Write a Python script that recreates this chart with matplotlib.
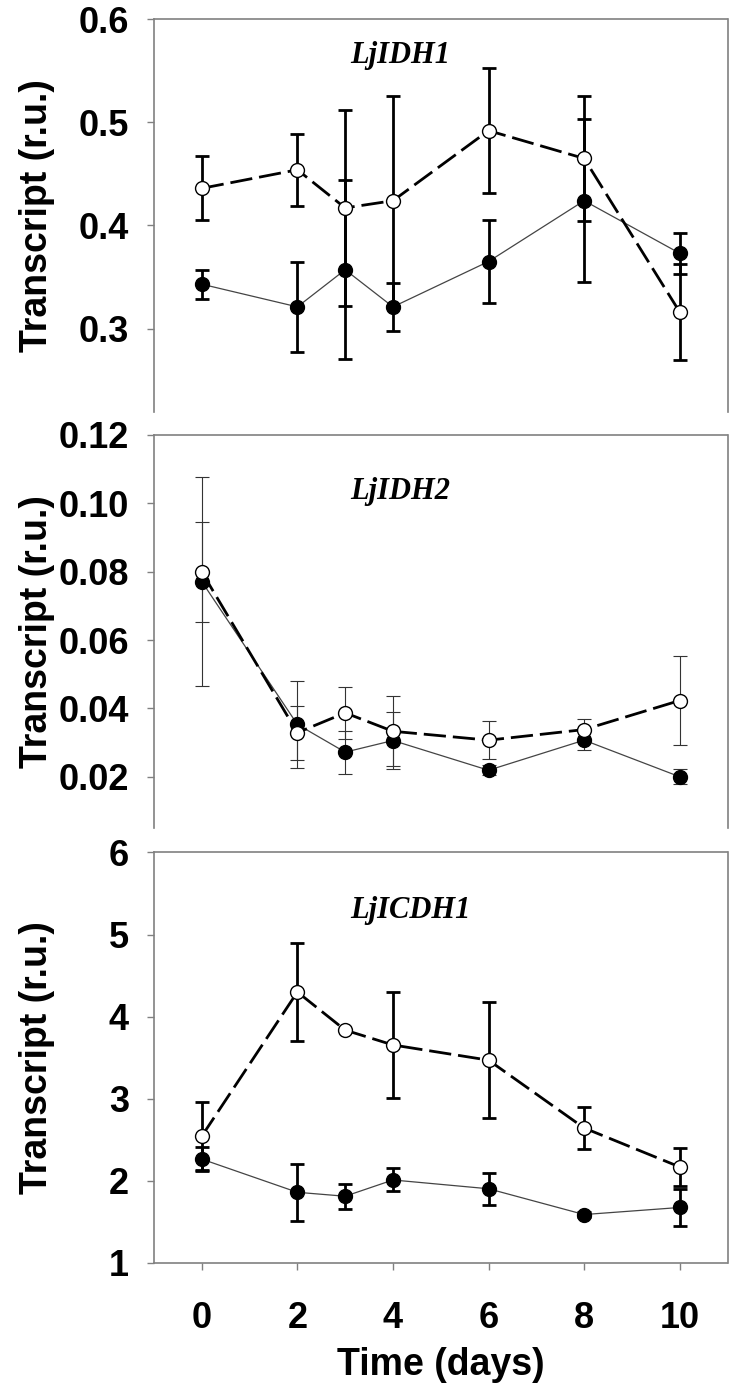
import numpy as np
import matplotlib
matplotlib.use("Agg")
import matplotlib.pyplot as plt

plt.rcParams['font.family'] = ['Liberation Sans', 'DejaVu Sans']
plt.rcParams['font.weight'] = 'bold'

days = [0, 2, 3, 4, 6, 8, 10]

# LjIDH1
idh1_filled = [0.343, 0.321, 0.357, 0.321, 0.365, 0.424, 0.373]
idh1_filled_err = [0.014, 0.044, 0.087, 0.023, 0.040, 0.079, 0.020]
idh1_open = [0.436, 0.454, 0.417, 0.424, 0.492, 0.465, 0.316]
idh1_open_err = [0.031, 0.035, 0.095, 0.102, 0.061, 0.061, 0.047]

# LjIDH2
idh2_filled = [0.0771, 0.0353, 0.0272, 0.0306, 0.0219, 0.0307, 0.0200]
idh2_filled_err = [0.0305, 0.0126, 0.0063, 0.0084, 0.0015, 0.0030, 0.0022]
idh2_open = [0.0799, 0.0329, 0.0387, 0.0333, 0.0307, 0.0338, 0.0423]
idh2_open_err = [0.0147, 0.0079, 0.0076, 0.0103, 0.0056, 0.0030, 0.0130]

# LjICDH1
icdh1_filled = [2.265, 1.861, 1.813, 2.011, 1.904, 1.590, 1.676]
icdh1_filled_err = [0.145, 0.345, 0.155, 0.140, 0.195, 0.030, 0.225]
icdh1_open = [2.545, 4.300, 3.836, 3.655, 3.470, 2.644, 2.170]
icdh1_open_err = [0.410, 0.600, 0.000, 0.645, 0.705, 0.250, 0.230]

panels = [
    ("LjIDH1", idh1_filled, idh1_filled_err, idh1_open, idh1_open_err,
     (0.219, 0.6), [0.3, 0.4, 0.5, 0.6], "%.1f", 0.565, True),
    ("LjIDH2", idh2_filled, idh2_filled_err, idh2_open, idh2_open_err,
     (0.005, 0.12), [0.02, 0.04, 0.06, 0.08, 0.10, 0.12], "%.2f", 0.1034, False),
    ("LjICDH1", icdh1_filled, icdh1_filled_err, icdh1_open, icdh1_open_err,
     (1, 6), [1, 2, 3, 4, 5, 6], "%d", 5.29, True),
]

W, H = 733, 1396
fig = plt.figure(figsize=(W / 100, H / 100), dpi=100)
left, right = 154, 727.5
boxes = [(19.3, 412), (435, 828), (852.4, 1263)]

spine_col = '#808080'
for i, (name, f, fe, o, oe, ylim, yt, fmt, ty, thick) in enumerate(panels):
    top, bot = boxes[i]
    ax = fig.add_axes([left / W, 1 - bot / H, (right - left) / W, (bot - top) / H])

    if thick:
        ebw, ecol = 2.0, 'black'
    else:
        ebw, ecol = 0.8, '#333333'
    ax.errorbar(days, f, yerr=fe, fmt='none', ecolor=ecol, elinewidth=ebw,
                capsize=5, capthick=ebw, zorder=2)
    ax.errorbar(days, o, yerr=oe, fmt='none', ecolor=ecol, elinewidth=ebw,
                capsize=5, capthick=ebw, zorder=2)
    ax.plot(days, f, '-', color='#444444', lw=0.9, marker='o', ms=10,
            mfc='black', mec='black', zorder=3)
    ax.plot(days, o, '--', color='black', lw=2, dashes=(8, 2.5), marker='o',
            ms=10, mfc='white', mec='black', mew=1, zorder=4)

    ax.text(3.11, ty, name, fontsize=22, family='Liberation Serif',
            style='italic', weight='bold', ha='left', va='center')

    ax.set_xlim(-1, 11)
    ax.set_ylim(*ylim)
    ax.set_yticks(yt)
    ax.set_yticklabels([fmt % v for v in yt], fontsize=26, fontweight='bold')
    ax.tick_params(axis='y', direction='out', length=5, width=1,
                   color=spine_col, pad=13)
    ax.set_ylabel("Transcript (r.u.)", fontsize=27, fontweight='bold')
    ax.yaxis.set_label_coords(-0.172, 0.5)

    for s in ax.spines.values():
        s.set_color(spine_col)
        s.set_linewidth(1.2)

    if i < 2:
        ax.spines['bottom'].set_visible(False)
        ax.tick_params(axis='x', bottom=False, labelbottom=False)
    else:
        ax.set_xticks([0, 2, 4, 6, 8, 10])
        ax.set_xticklabels(['0', '2', '4', '6', '8', '10'], fontsize=26,
                           fontweight='bold')
        ax.tick_params(axis='x', direction='out', length=5, width=1,
                       color=spine_col, pad=22)
        ax.set_xlabel("Time (days)", fontsize=27, fontweight='bold')
        ax.xaxis.set_label_coords(0.5, -0.205)

fig.savefig("out.png", dpi=100)
